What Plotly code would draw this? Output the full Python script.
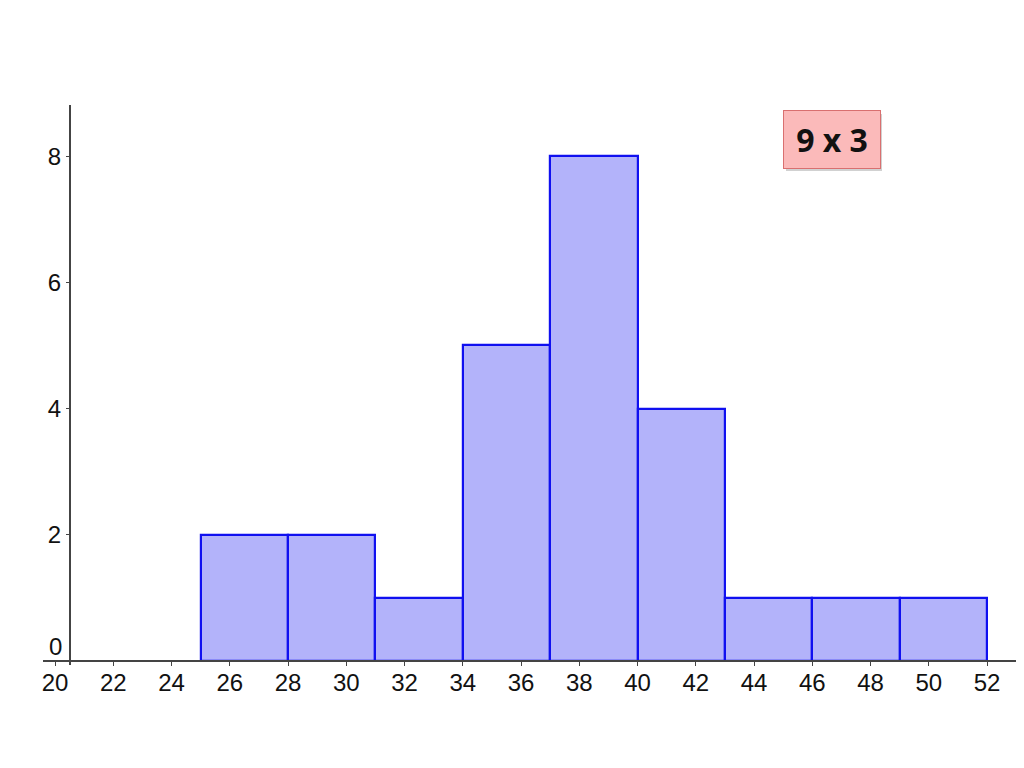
import plotly.graph_objects as go

# Data
bin_starts = [25, 28, 31, 34, 37, 40, 43, 46, 49]
bin_width = 3
counts = [2, 2, 1, 5, 8, 4, 1, 1, 1]
x_ticks = list(range(20, 53, 2))
y_ticks = [0, 2, 4, 6, 8]
label_text = "9 x 3"

centers = [s + bin_width / 2 for s in bin_starts]

# page body has an 8px margin, so the figure is offset by 8px
W, H = 1016, 760
ml, mr, mt, mb = 35, 0, 97, 103
pw, ph = W - ml - mr, H - mt - mb

x_range = [19.588, 53.27]
y_range = [-0.063, 8.81]

fig = go.Figure()
fig.add_trace(go.Bar(
    x=centers, y=counts, width=[bin_width] * len(counts),
    marker=dict(color="#b3b3fa", line=dict(color="#1010f0", width=2.2)),
    hoverinfo="x+y",
))

axis_color = "#444444"
font = dict(family="Liberation Sans, Arial, sans-serif", size=24, color="#111111")

ypos_axis = (0 - y_range[0]) / (y_range[1] - y_range[0])
xpos_axis = (20.5 - x_range[0]) / (x_range[1] - x_range[0])

fig.update_layout(
    width=W, height=H,
    margin=dict(l=ml, r=mr, t=mt, b=mb, autoexpand=False),
    plot_bgcolor="white", paper_bgcolor="white",
    showlegend=False,
    bargap=0,
    xaxis=dict(
        range=x_range, tickvals=x_ticks, ticktext=[str(v) for v in x_ticks],
        showgrid=False, zeroline=False, automargin=False,
        showline=True, linecolor=axis_color, linewidth=1.5,
        ticks="outside", ticklen=4, tickcolor=axis_color, tickwidth=1.2,
        ticklabelstandoff=-4,
        tickfont=font, anchor="free", position=ypos_axis,
    ),
    yaxis=dict(
        range=y_range, tickvals=y_ticks,
        ticktext=["" if v == 0 else str(v) for v in y_ticks],
        showgrid=False, zeroline=False, automargin=False,
        showline=True, linecolor=axis_color, linewidth=1.5,
        ticks="outside", ticklen=3, tickcolor=axis_color, tickwidth=1.2,
        tickfont=font, anchor="free", position=xpos_axis,
    ),
)

# "0" label sitting just above the x axis, as in the reference
fig.add_annotation(
    x=xpos_axis, y=0, xref="paper", yref="y", xanchor="right", yanchor="bottom",
    text="0", showarrow=False, font=font, xshift=-6, yshift=-1,
)

ax = (824 - ml) / pw
ay = 1 - (131 - mt) / ph

# shadow
fig.add_annotation(
    x=ax, y=ay, xref="paper", yref="paper", xanchor="center", yanchor="middle",
    text=" ", showarrow=False, width=94, height=55,
    bgcolor="rgba(0,0,0,0.18)", borderwidth=0,
    xshift=2, yshift=-3,
)
fig.add_annotation(
    x=ax, y=ay, xref="paper", yref="paper", xanchor="center", yanchor="middle",
    text="<b>" + label_text + "</b>", showarrow=False, width=94, height=55,
    font=dict(family="Noto Sans, Open Sans, sans-serif", size=32, color="#111111"),
    bgcolor="#fbbaba", bordercolor="#d97070", borderwidth=1,
)

fig.write_html("out.html")
